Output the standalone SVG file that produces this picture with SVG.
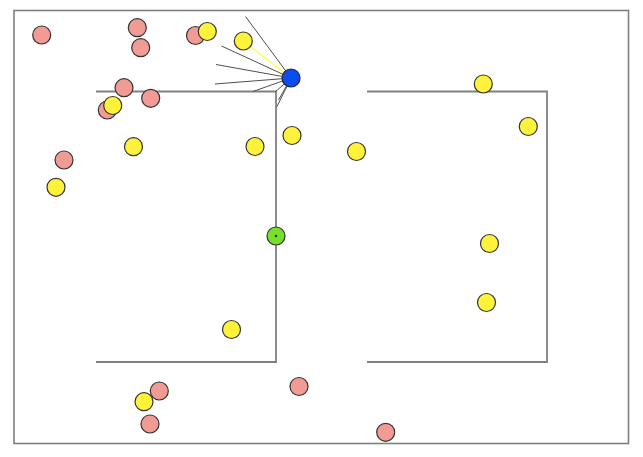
<svg xmlns="http://www.w3.org/2000/svg" width="643" height="457" viewBox="0 0 643 457">
<style>
.frame{fill:none;stroke:#808080;stroke-width:1.6}
.wall{fill:none;stroke:#808080;stroke-width:1.8}
.ray{stroke:#505050;stroke-width:1}
.sel{stroke:#ffff33;stroke-width:1.2}
.pink{fill:#f29a94;stroke:#333;stroke-width:1.2}
.yellow{fill:#fff23a;stroke:#333;stroke-width:1.2}
.blue{fill:#0a4ef0;stroke:#223;stroke-width:1.2}
.green{fill:#77e02a;stroke:#333;stroke-width:1.2}
</style>
<rect width="643" height="457" fill="#fff"/>
<rect class="frame" x="14" y="10.5" width="614.5" height="433"/>
<g id="walls">
<polyline class="wall" points="96,91.5 276,91.5 276,362 96,362"/>
<polyline class="wall" points="367,91.5 547,91.5 547,362 367,362"/>
</g>
<g id="connectors">
<line class="ray" x1="291" y1="78" x2="245.5" y2="16.5"/>
<line class="ray" x1="291" y1="78" x2="221.5" y2="46"/>
<line class="ray" x1="291" y1="78" x2="216" y2="64.5"/>
<line class="ray" x1="291" y1="78" x2="215" y2="84"/>
<line class="ray" x1="291" y1="78" x2="253" y2="91.5"/>
<line class="ray" x1="291" y1="78" x2="275" y2="92"/>
<line class="ray" x1="291" y1="78" x2="278.5" y2="100"/>
<line class="ray" x1="291" y1="78" x2="277" y2="106.5"/>
<line class="sel" x1="291" y1="78" x2="243.3" y2="41"/>
</g>
<g id="pink-nodes">
<circle id="p1" class="pink" cx="41.7" cy="35" r="9"/>
<circle id="p2" class="pink" cx="137.3" cy="27.7" r="9"/>
<circle id="p3" class="pink" cx="140.7" cy="47.7" r="9"/>
<circle id="p4" class="pink" cx="195.5" cy="35.5" r="9"/>
<circle id="p5" class="pink" cx="124" cy="87.7" r="9"/>
<circle id="p6" class="pink" cx="150.7" cy="98.3" r="9"/>
<circle id="p7" class="pink" cx="107.3" cy="110" r="9"/>
<circle id="p8" class="pink" cx="64" cy="160" r="9"/>
<circle id="p9" class="pink" cx="159.3" cy="391" r="9"/>
<circle id="p10" class="pink" cx="150" cy="424" r="9"/>
<circle id="p11" class="pink" cx="299" cy="386.5" r="9"/>
<circle id="p12" class="pink" cx="385.7" cy="432.3" r="9"/>
</g>
<g id="yellow-nodes">
<circle id="y1" class="yellow" cx="207.3" cy="31.5" r="9"/>
<circle id="y2" class="yellow" cx="243.3" cy="41" r="9"/>
<circle id="y3" class="yellow" cx="112.7" cy="105.5" r="9"/>
<circle id="y4" class="yellow" cx="133.5" cy="146.7" r="9"/>
<circle id="y5" class="yellow" cx="255" cy="146.5" r="9"/>
<circle id="y6" class="yellow" cx="292" cy="135.5" r="9"/>
<circle id="y7" class="yellow" cx="356.5" cy="151.5" r="9"/>
<circle id="y8" class="yellow" cx="56" cy="187.3" r="9"/>
<circle id="y9" class="yellow" cx="483.3" cy="84" r="9"/>
<circle id="y10" class="yellow" cx="528.3" cy="126.5" r="9"/>
<circle id="y11" class="yellow" cx="489.5" cy="243.5" r="9"/>
<circle id="y12" class="yellow" cx="486.5" cy="302.5" r="9"/>
<circle id="y13" class="yellow" cx="231.5" cy="329.5" r="9"/>
<circle id="y14" class="yellow" cx="144" cy="401.7" r="9"/>
</g>
<g id="blue-node">
<circle class="blue" cx="291" cy="78" r="9"/>
</g>
<g id="green-node">
<circle class="green" cx="276" cy="236" r="9"/>
<circle cx="276" cy="236" r="1.2" fill="#222"/>
</g>
</svg>
